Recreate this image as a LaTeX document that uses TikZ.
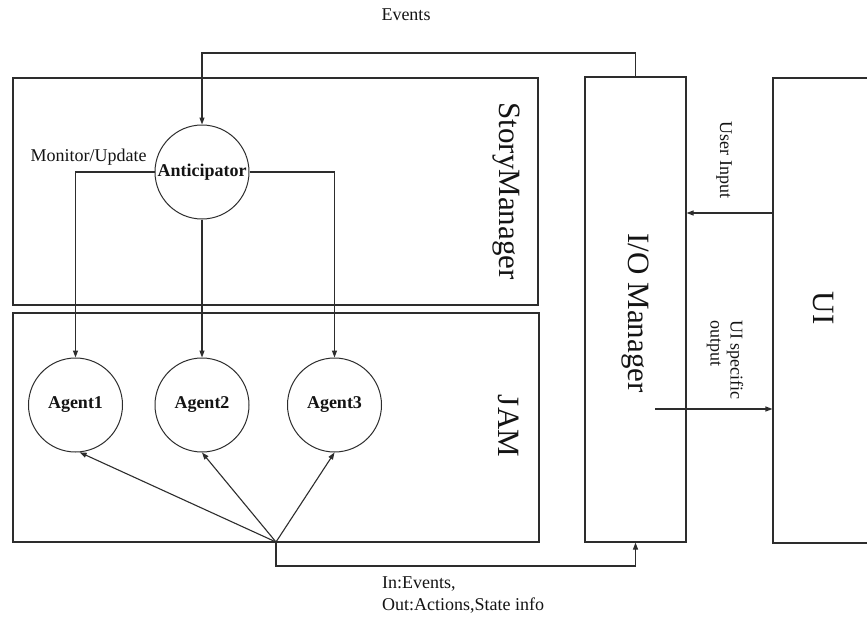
\documentclass[tikz,border=0pt]{standalone}
\usepackage{fontspec}
\setmainfont{Liberation Serif}
\usepackage{xcolor}
\usepackage{tikz}
\usetikzlibrary{calc,arrows.meta,positioning}
\definecolor{edgeGray}{RGB}{45,45,45}
\definecolor{textGray}{RGB}{20,20,20}

\begin{document}
\begin{tikzpicture}[x=1pt,y=-1pt,
  box/.style={draw=edgeGray, line width=1.1pt, rectangle, inner sep=0pt},
  agentcirc/.style={draw=edgeGray, line width=1pt, circle, minimum size=94pt, inner sep=0pt,
    font=\fontsize{18}{20}\selectfont\bfseries, text=textGray},
  biglbl/.style={rotate=-90, font=\fontsize{31}{34}\selectfont, text=textGray},
  smalllbl/.style={font=\fontsize{18}{21}\selectfont, text=textGray, inner sep=0pt},
  arr/.style={draw=edgeGray, line width=1.1pt, -{Triangle[length=7pt,width=5pt]}},
  link/.style={draw=edgeGray, line width=1.1pt}]
\clip (0,0) rectangle (867,618);
\fill[white] (0,0) rectangle (867,618);

% containers
\node[box, minimum width=525pt, minimum height=227pt] (story) at (275.5,191.5) {};
\node[box, minimum width=526pt, minimum height=229pt] (jam) at (276,427.5) {};
\node[box, minimum width=101pt, minimum height=465pt] (io) at (635.5,309.5) {};
\node[box, minimum width=107pt, minimum height=465pt] (ui) at (826.5,310.5) {};

\node[biglbl] (storylbl) at (506,191) {StoryManager};
\node[biglbl] (jamlbl) at (509,426) {JAM};
\node[biglbl] (iolbl) at (635,313) {I/O Manager};
\node[biglbl] (uilbl) at (823,308) {UI};

% circles
\node[agentcirc] (antic) at (202,172) {Anticipator};
\node[agentcirc] (agent1) at (75.5,405) {Agent1};
\node[agentcirc] (agent2) at (202,405) {Agent2};
\node[agentcirc] (agent3) at (334.5,405) {Agent3};

% connectors
\draw[arr] (io.north) -- (io.north |- 0,53) -| (antic.north);
\draw[arr] (antic.west) -| (agent1.north);
\draw[arr] (antic.south) -- (agent2.north);
\draw[arr] (antic.east) -| (agent3.north);

\coordinate (hub) at (276,542);
\draw[arr] (hub) -- (agent1.-85);
\draw[arr] (hub) -- (agent2.south);
\draw[arr] (hub) -- (agent3.south);
\draw[arr] (hub) -- ++(0,24) -| (io.south);

\draw[arr] (ui.west |- 0,213) -- (io.east |- 0,213);
\coordinate (outstart) at (655,409);
\draw[arr] (outstart) -- (ui.west |- outstart);

% labels
\node[smalllbl] (evlbl) at (406,15) {Events};
\node[smalllbl] (monlbl) at (88.5,157) {Monitor/Update};
\node[smalllbl, rotate=-90] (userlbl) at (724,160) {User Input};
\node[smalllbl, rotate=-90, align=left, font=\fontsize{18}{20}\selectfont] (outlbl) at (725,360) {UI specific\\output};
\node[smalllbl, align=left, anchor=north west, font=\fontsize{18}{22}\selectfont] (iolink) at (382,577) {In:Events,\\Out:Actions,State info};
\end{tikzpicture}
\end{document}
